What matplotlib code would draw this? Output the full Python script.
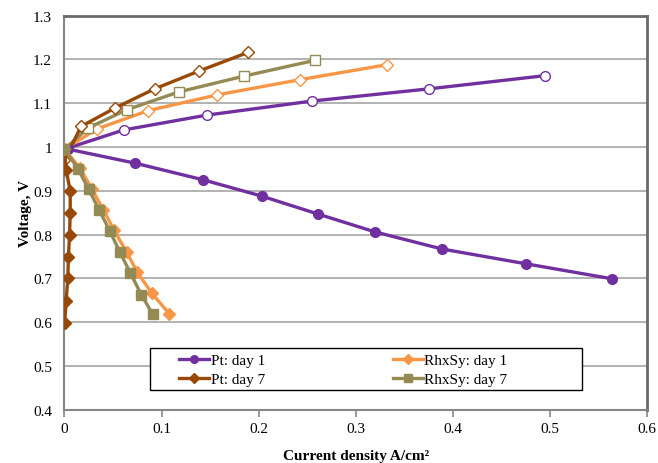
#!/usr/bin/env python3

import matplotlib

matplotlib.use("Agg")
import matplotlib.pyplot as plt
from matplotlib.patches import Rectangle

# descending branches (filled markers, shown in legend)
pt1_dn_x = [0.004, 0.073, 0.143, 0.203, 0.261, 0.320, 0.389, 0.476, 0.564]
pt1_dn_y = [0.995, 0.963, 0.925, 0.888, 0.847, 0.806, 0.767, 0.733, 0.699]

pt7_dn_x = [0.0, 0.0017, 0.0059, 0.0059, 0.0052, 0.0041, 0.0034, 0.0017, 0.0002]
pt7_dn_y = [0.995, 0.948, 0.899, 0.850, 0.799, 0.749, 0.700, 0.648, 0.599]

rh1_dn_x = [0.0, 0.016, 0.028, 0.040, 0.051, 0.064, 0.075, 0.090, 0.108]
rh1_dn_y = [0.995, 0.952, 0.905, 0.857, 0.810, 0.760, 0.714, 0.666, 0.619]

rh7_dn_x = [0.0, 0.014, 0.025, 0.036, 0.047, 0.057, 0.068, 0.079, 0.091]
rh7_dn_y = [0.995, 0.950, 0.903, 0.855, 0.807, 0.760, 0.712, 0.663, 0.618]

# ascending branches (open markers)
pt1_up_x = [0.0, 0.061, 0.147, 0.255, 0.376, 0.495]
pt1_up_y = [0.995, 1.039, 1.073, 1.105, 1.133, 1.163]

pt7_up_x = [0.0, 0.017, 0.052, 0.093, 0.139, 0.189]
pt7_up_y = [0.970, 1.047, 1.089, 1.133, 1.174, 1.216]

rh1_up_x = [0.0, 0.033, 0.086, 0.157, 0.243, 0.332]
rh1_up_y = [0.995, 1.041, 1.083, 1.119, 1.154, 1.188]

rh7_up_x = [0.0, 0.024, 0.064, 0.118, 0.185, 0.258]
rh7_up_y = [0.995, 1.043, 1.085, 1.126, 1.162, 1.198]

PURPLE = "#7030A0"
BROWN = "#984807"
ORANGE = "#F79646"
OLIVE = "#948A54"

plt.rcParams["font.family"] = ["Liberation Serif", "DejaVu Serif"]


def draw():
    fig = plt.figure(figsize=(6.58, 4.64), dpi=100)
    ax = fig.add_axes([0.098, 0.115, 0.885, 0.849])

    lw = 2.4
    ms = 7

    ax.plot(pt1_up_x, pt1_up_y, color=PURPLE, lw=lw, marker="o", ms=ms,
            mfc="white", mec=PURPLE, mew=1.0, zorder=3)
    ax.plot(rh1_up_x, rh1_up_y, color=ORANGE, lw=lw, marker="D", ms=ms - 1,
            mfc="white", mec=ORANGE, mew=1.0, zorder=3)
    ax.plot(rh7_up_x, rh7_up_y, color=OLIVE, lw=lw, marker="s", ms=ms,
            mfc="white", mec=OLIVE, mew=1.0, zorder=3)
    ax.plot(pt7_up_x, pt7_up_y, color=BROWN, lw=lw, marker="D", ms=ms - 1,
            mfc="white", mec=BROWN, mew=1.0, zorder=3)

    ax.plot(pt1_dn_x, pt1_dn_y, color=PURPLE, lw=lw, marker="o", ms=ms,
            label="Pt: day 1", zorder=3)
    ax.plot(pt7_dn_x, pt7_dn_y, color=BROWN, lw=lw, marker="D", ms=ms - 1,
            label="Pt: day 7", zorder=3)
    ax.plot(rh1_dn_x, rh1_dn_y, color=ORANGE, lw=lw, marker="D", ms=ms - 1,
            label="RhxSy: day 1", zorder=3)
    ax.plot(rh7_dn_x, rh7_dn_y, color=OLIVE, lw=lw, marker="s", ms=ms,
            label="RhxSy: day 7", zorder=3)

    ax.set_xlim(0, 0.6)
    ax.set_ylim(0.4, 1.3)
    ax.set_xticks([0, 0.1, 0.2, 0.3, 0.4, 0.5, 0.6])
    ax.set_xticklabels(["0", "0.1", "0.2", "0.3", "0.4", "0.5", "0.6"])
    ax.set_yticks([0.4, 0.5, 0.6, 0.7, 0.8, 0.9, 1.0, 1.1, 1.2, 1.3])
    ax.set_yticklabels(["0.4", "0.5", "0.6", "0.7", "0.8", "0.9", "1",
                        "1.1", "1.2", "1.3"])
    ax.yaxis.grid(True, color="#A6A6A6", lw=1.2)
    ax.set_axisbelow(True)

    ax.tick_params(labelsize=11, color="#868686", length=5, width=1.2,
                   direction="out", pad=4)
    ax.tick_params(axis="y", length=0, pad=9)
    for side in ["left", "bottom"]:
        ax.spines[side].set_color("#868686")
        ax.spines[side].set_linewidth(1.5)
    for side in ["top", "right"]:
        ax.spines[side].set_color("#6A6A6A")
        ax.spines[side].set_linewidth(2)

    ax.set_xlabel("Current density A/cm\u00b2", fontsize=11, fontweight="bold",
                  labelpad=10)
    ax.set_ylabel("Voltage, V", fontsize=11, fontweight="bold", labelpad=1)

    # legend frame drawn separately so its padding matches the original
    ax.add_patch(Rectangle((0.146, 0.05), 0.743, 0.107, transform=ax.transAxes,
                           facecolor="white", edgecolor="black", lw=1.0,
                           zorder=4))
    leg = ax.legend(loc="upper left", bbox_to_anchor=(0.197, 0.143),
                    ncol=2, fontsize=11, numpoints=1, frameon=False,
                    handlelength=1.95, handletextpad=0.1, borderpad=0.0,
                    borderaxespad=0.0, labelspacing=0.36, columnspacing=8.4)
    leg.set_zorder(5)
    for h in leg.legend_handles:
        h.set_markersize(5.5)

    fig.savefig("out.png", dpi=100)


def main():
    draw()


if __name__ == "__main__":
    main()
